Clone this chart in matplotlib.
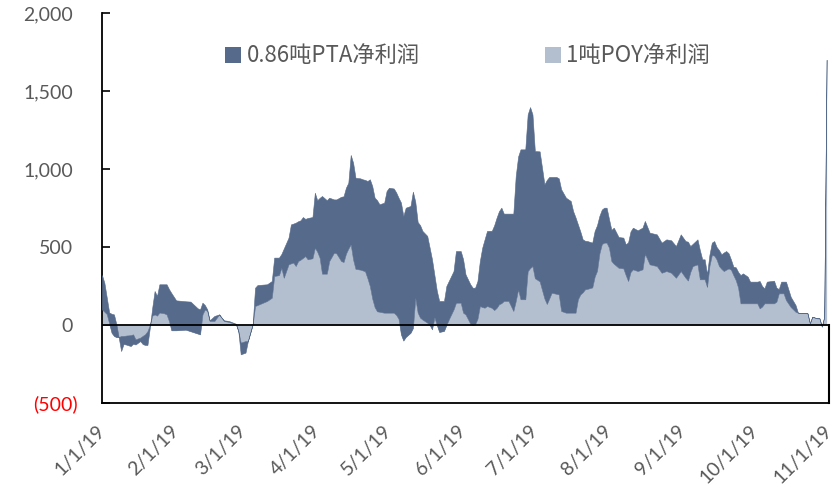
import matplotlib
matplotlib.use("Agg")
import matplotlib.pyplot as plt
import matplotlib.transforms as mtransforms
from matplotlib.patches import Patch
import numpy as np
import pandas as pd

# ---------------- data ----------------
dates = [
    "01-01", "01-02", "01-03", "01-04", "01-05", "01-06", "01-07", "01-08", "01-09", "01-10",
    "01-11", "01-13", "01-14", "01-15", "01-17", "01-18", "01-19", "01-20", "01-21", "01-22",
    "01-23", "01-24", "01-25", "01-27", "01-28", "01-29", "01-30", "02-01", "02-03", "02-05",
    "02-07", "02-10", "02-11", "02-12", "02-13", "02-14", "02-15", "02-17", "02-19", "02-20",
    "02-21", "02-23", "02-26", "02-27", "02-28", "03-02", "03-03", "03-05", "03-06", "03-07",
    "03-11", "03-13", "03-14", "03-16", "03-17", "03-18", "03-20", "03-21", "03-22", "03-23",
    "03-24", "03-25", "03-26", "03-27", "03-28", "03-30", "03-31", "04-01", "04-02", "04-03",
    "04-05", "04-06", "04-08", "04-09", "04-11", "04-12", "04-13", "04-14", "04-15", "04-16",
    "04-17", "04-19", "04-20", "04-21", "04-22", "04-23", "04-24", "04-25", "04-26", "04-27",
    "04-29", "04-30", "05-01", "05-03", "05-04", "05-05", "05-06", "05-07", "05-08", "05-10",
    "05-11", "05-12", "05-13", "05-14", "05-15", "05-17", "05-18", "05-19", "05-20", "05-21",
    "05-22", "05-24", "05-25", "05-26", "05-28", "05-29", "05-31", "06-01", "06-02", "06-04",
    "06-05", "06-06", "06-07", "06-08", "06-09", "06-10", "06-11", "06-13", "06-14", "06-15",
    "06-16", "06-17", "06-18", "06-20", "06-21", "06-22", "06-23", "06-24", "06-25", "06-27",
    "06-28", "06-29", "06-30", "07-01", "07-03", "07-05", "07-06", "07-07", "07-08", "07-10",
    "07-11", "07-12", "07-14", "07-16", "07-17", "07-18", "07-19", "07-20", "07-21", "07-22",
    "07-23", "07-25", "07-26", "07-27", "07-28", "07-29", "07-30", "07-31", "08-01", "08-02",
    "08-03", "08-05", "08-07", "08-08", "08-09", "08-10", "08-11", "08-13", "08-15", "08-16",
    "08-18", "08-21", "08-23", "08-25", "08-27", "08-29", "08-31", "09-02", "09-03", "09-04",
    "09-05", "09-07", "09-08", "09-09", "09-10", "09-11", "09-12", "09-13", "09-14", "09-15",
    "09-16", "09-17", "09-18", "09-19", "09-20", "09-21", "09-22", "09-23", "09-24", "09-25",
    "09-26", "09-28", "09-29", "10-02", "10-03", "10-04", "10-05", "10-06", "10-09", "10-10",
    "10-11", "10-12", "10-13", "10-14", "10-16", "10-18", "10-19", "10-23", "10-24", "10-25",
    "10-27", "10-28", "10-29", "10-30", "10-31",
]

# 1吨POY净利润 (bottom series of the stack)
poy = [
    100, 85, 70, 10, -50, -70, -78, -78, -70, -70,
    -68, -65, -60, -92, -81, -70, -60, -40, 0, 60,
    68, 60, 80, 75, 68, 26, -34, -34, -32, -30,
    -40, -55, -60, 68, 100, 90, 26, 26, 68, 47,
    26, 20, 5, -40, -113, -103, -103, 4, 122, 128,
    154, 175, 314, 320, 367, 303, 389, 395, 400, 378,
    410, 419, 430, 442, 421, 428, 496, 470, 432, 329,
    329, 410, 464, 459, 410, 404, 457, 490, 517, 420,
    360, 355, 350, 344, 300, 250, 170, 115, 88, 85,
    79, 79, 79, 79, 65, 40, -60, -100, -77, -50,
    -20, 175, 80, 47, 35, 15, 0, -28, 50, 0,
    -45, -38, 0, 36, 100, 143, 143, 79, 68, 9,
    0, 5, 40, 122, 115, 111, 122, 110, 96, 110,
    133, 140, 154, 154, 122, 90, 154, 229, 165, 165,
    345, 365, 378, 300, 280, 170, 135, 170, 207, 200,
    196, 90, 79, 79, 79, 79, 165, 196, 210, 229,
    232, 241, 310, 348, 460, 519, 528, 528, 496, 410,
    393, 367, 363, 320, 282, 340, 357, 346, 357, 457,
    389, 378, 335, 346, 335, 303, 346, 303, 285, 340,
    378, 389, 293, 293, 293, 244, 380, 449, 445, 420,
    378, 360, 346, 355, 363, 355, 320, 288, 240, 139,
    139, 139, 139, 139, 107, 118, 139, 139, 139, 150,
    203, 203, 203, 160, 115, 85, 79, 75, 11, 53,
    43, 43, -10, 53, 1700,
]

# 0.86吨PTA净利润 (stacked on top of POY)
pta = [
    220, 185, 105, 70, 122, 138, 83, -3, -97, -52,
    -57, -70, -60, -33, -22, -52, -68, -88, -17, 51,
    150, 126, 181, 186, 193, 204, 239, 192, 187, 182,
    190, 162, 160, 75, 28, 10, 4, 32, 0, 0,
    4, 6, 3, 2, -75, -74, 0, 0, 117, 128,
    107, 107, 118, 112, 88, 187, 171, 250, 250, 278,
    255, 252, 262, 238, 265, 264, 352, 330, 383, 498,
    471, 406, 341, 346, 412, 421, 423, 422, 573, 620,
    584, 585, 584, 586, 623, 684, 721, 701, 712, 689,
    705, 780, 801, 796, 785, 776, 845, 799, 829, 813,
    875, 615, 580, 593, 568, 556, 496, 448, 270, 220,
    199, 192, 250, 246, 246, 331, 331, 342, 257, 252,
    239, 234, 242, 288, 381, 439, 481, 494, 544, 578,
    597, 612, 560, 560, 592, 624, 801, 851, 961, 961,
    1005, 1032, 972, 815, 833, 732, 795, 779, 742, 749,
    744, 780, 737, 716, 651, 611, 480, 404, 339, 311,
    306, 287, 293, 292, 240, 221, 224, 224, 184, 200,
    231, 197, 197, 197, 248, 260, 267, 261, 267, 210,
    203, 203, 193, 203, 208, 203, 235, 235, 249, 166,
    142, 160, 187, 128, 128, 81, 70, 79, 93, 80,
    102, 93, 119, 119, 97, 65, 54, 82, 100, 181,
    192, 171, 139, 139, 175, 132, 96, 139, 145, 90,
    27, 75, 75, 118, 65, 43, 0, 0, 0, 0,
    0, 0, 0, 0, 0,
]

series_names = ["0.86吨PTA净利润", "1吨POY净利润"]
month_ticks = ["2019-01-01", "2019-02-01", "2019-03-01", "2019-04-01", "2019-05-01", "2019-06-01",
               "2019-07-01", "2019-08-01", "2019-09-01", "2019-10-01", "2019-11-01"]
month_labels = ["1/1/19", "2/1/19", "3/1/19", "4/1/19", "5/1/19", "6/1/19",
                "7/1/19", "8/1/19", "9/1/19", "10/1/19", "11/1/19"]
y_ticks = [-500, 0, 500, 1000, 1500, 2000]
y_labels = ["(500)", "0", "500", "1,000", "1,500", "2,000"]

# ---------------- styling ----------------
DARK = "#566B8B"
LIGHT = "#B3BECF"
GREY = "#595959"

x = pd.to_datetime(["2019-" + d for d in dates])
poy_v = np.array(poy, dtype=float)
top_v = poy_v + np.array(pta, dtype=float)

fig = plt.figure(figsize=(8.38, 4.90), dpi=100)
ax = fig.add_axes([102 / 838, 1 - 403 / 490, 727 / 838, 390 / 490])

ax.fill_between(x, 0, poy_v, color=LIGHT, linewidth=0, zorder=2)
ax.fill_between(x, poy_v, top_v, facecolor=DARK, edgecolor=DARK, linewidth=0.4, zorder=3)

xmin = pd.Timestamp(month_ticks[0])
xmax = pd.Timestamp(month_ticks[-1])
ax.set_xlim(xmin, xmax)
ax.set_ylim(-500, 2000)

ax.axhline(0, color="black", linewidth=1.3, zorder=5)
ax.axvline(xmax, ymin=0, ymax=0.2, color="black", linewidth=1.5, zorder=5, clip_on=False)

for s in ["top", "right"]:
    ax.spines[s].set_visible(False)
for s in ["left", "bottom"]:
    ax.spines[s].set_color("black")
    ax.spines[s].set_linewidth(1.3)

ax.set_yticks(y_ticks)
ax.set_yticklabels(y_labels, fontfamily="Lato", fontsize=14, color=GREY)
ax.tick_params(axis="y", direction="in", length=5.5, width=1.2, pad=21, colors="black",
               labelcolor=GREY)
for lab in ax.get_yticklabels():
    if lab.get_text().startswith("("):
        lab.set_color("red")
        lab.set_transform(lab.get_transform() +
                          mtransforms.ScaledTranslation(5 / 100, 0, fig.dpi_scale_trans))

ax.set_xticks(pd.to_datetime(month_ticks))
ax.set_xticklabels(month_labels, fontfamily="Lato", fontsize=14, color=GREY,
                   rotation=45, ha="right", va="center", rotation_mode="anchor")
ax.tick_params(axis="x", length=0, pad=18)

handles = [Patch(facecolor=DARK, edgecolor="none"), Patch(facecolor=LIGHT, edgecolor="none")]
leg = ax.legend(handles, series_names, loc="center", bbox_to_anchor=(0.503, 0.89), ncol=2,
                frameon=False, prop={"family": ["Noto Sans CJK SC", "DejaVu Sans"], "size": 16},
                handlelength=0.72, handleheight=0.72, handletextpad=0.25, columnspacing=5.6,
                borderpad=0)
for t in leg.get_texts():
    t.set_color(GREY)

fig.savefig("out.png", dpi=100)
